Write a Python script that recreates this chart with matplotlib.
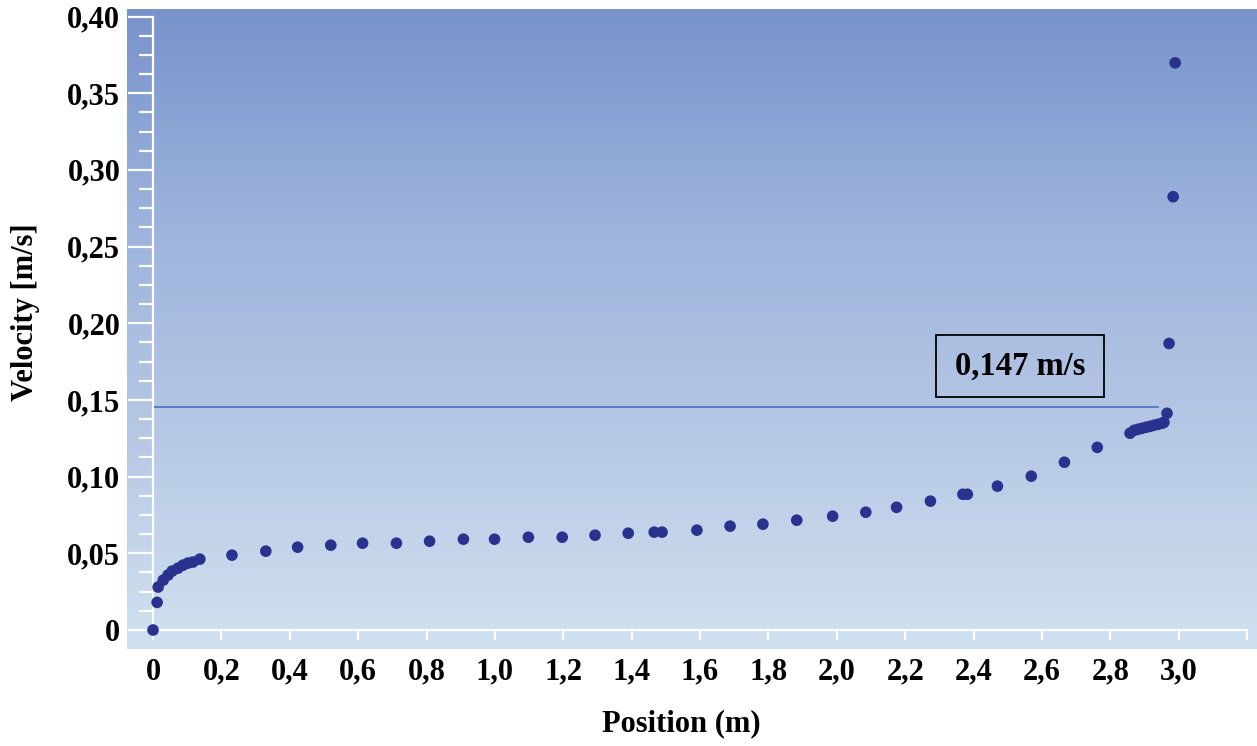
import numpy as np
import matplotlib
matplotlib.use("Agg")
import matplotlib.pyplot as plt
from matplotlib.colors import LinearSegmentedColormap
from matplotlib.ticker import AutoMinorLocator, FixedLocator
from matplotlib.patches import Rectangle

# ---- data ----
position = [0.0, 0.012, 0.015, 0.03, 0.044, 0.056, 0.073, 0.088, 0.102, 0.117, 0.137,
            0.231, 0.330, 0.423, 0.520, 0.613, 0.712, 0.809, 0.908, 0.999, 1.098,
            1.197, 1.293, 1.390, 1.466, 1.489, 1.591, 1.688, 1.784, 1.883, 1.988,
            2.085, 2.175, 2.274, 2.369, 2.382, 2.470, 2.569, 2.666, 2.762,
            2.858, 2.870, 2.882, 2.893, 2.905, 2.917, 2.928, 2.940, 2.952, 2.957,
            2.966, 2.972, 2.984, 2.990]
velocity = [0.0, 0.018, 0.0280, 0.0325, 0.0358, 0.0384, 0.0403, 0.0423, 0.0436, 0.0443, 0.0462,
            0.0488, 0.0514, 0.0540, 0.0553, 0.0566, 0.0566, 0.0579, 0.0592, 0.0592, 0.0605,
            0.0605, 0.0618, 0.0631, 0.0638, 0.0638, 0.0651, 0.0677, 0.0690, 0.0716, 0.0742,
            0.0768, 0.0800, 0.0840, 0.0885, 0.0885, 0.0938, 0.1003, 0.1094, 0.1191,
            0.1283, 0.1302, 0.1309, 0.1315, 0.1322, 0.1328, 0.1335, 0.1341, 0.1348, 0.1354,
            0.1413, 0.1868, 0.2825, 0.3698]
ref_velocity = 0.1455
ref_label = "0,147 m/s"
x_ticks = [0, 0.2, 0.4, 0.6, 0.8, 1.0, 1.2, 1.4, 1.6, 1.8, 2.0, 2.2, 2.4, 2.6, 2.8, 3.0, 3.2]
x_tick_labels = ["0", "0,2", "0,4", "0,6", "0,8", "1,0", "1,2", "1,4", "1,6", "1,8",
                 "2,0", "2,2", "2,4", "2,6", "2,8", "3,0", ""]
y_ticks = [0, 0.05, 0.10, 0.15, 0.20, 0.25, 0.30, 0.35, 0.40]
y_tick_labels = ["0", "0,05", "0,10", "0,15", "0,20", "0,25", "0,30", "0,35", "0,40"]

W, H = 1257, 746
plt.rcParams['font.family'] = ['Liberation Serif', 'DejaVu Serif']
plt.rcParams['font.weight'] = 'bold'

fig = plt.figure(figsize=(W / 100, H / 100), dpi=100)

# gradient backdrop panel
bg = fig.add_axes([127 / W, 1 - 649 / H, (W - 127) / W, (649 - 9) / H])
cmap = LinearSegmentedColormap.from_list(
    "bg", ["#d0e1f0", "#b7c8e5", "#9cb3dc", "#7893cb"])
grad = np.linspace(0, 1, 256).reshape(-1, 1)
bg.imshow(grad, aspect='auto', cmap=cmap, origin='lower', extent=[0, 1, 0, 1])
bg.axis('off')

# main axes
y_top_px = 16.5
ax = fig.add_axes([153 / W, 1 - 630 / H, (1247 - 153) / W, (630 - y_top_px) / H])
ax.patch.set_alpha(0)
ax.set_xlim(0, 3.2)
ax.set_ylim(0, 0.40)

for s in ['top', 'right']:
    ax.spines[s].set_visible(False)
for s in ['left', 'bottom']:
    ax.spines[s].set_color('white')
    ax.spines[s].set_linewidth(1.6)

ax.xaxis.set_major_locator(FixedLocator(x_ticks))
ax.set_xticklabels(x_tick_labels)
ax.yaxis.set_major_locator(FixedLocator(y_ticks))
ax.set_yticklabels(y_tick_labels)
ax.yaxis.set_minor_locator(AutoMinorLocator(4))

ax.tick_params(axis='y', which='major', direction='out', length=18, width=1.6,
               color='white', pad=5.5, labelsize=22, labelcolor='black')
ax.tick_params(axis='y', which='minor', direction='out', length=10, width=1.6,
               color='white')
ax.tick_params(axis='x', which='major', direction='out', length=7, width=1.6,
               color='white', pad=13, labelsize=22, labelcolor='black')
for lab in ax.get_xticklabels() + ax.get_yticklabels():
    lab.set_fontweight('bold')

# reference line
ax.plot([0, 2.94], [ref_velocity, ref_velocity], color='#4a78c0', lw=1.3, zorder=2)

# data points
ax.scatter(position, velocity, s=70, color='#2a3290', edgecolors='none',
           zorder=3, clip_on=False)

# annotation box
fig.patches.append(Rectangle((936 / W, 1 - 397 / H), (1104 - 936) / W, (397 - 335) / H,
                             transform=fig.transFigure, facecolor='none',
                             edgecolor='black', lw=1.3, zorder=4))
fig.text(1020 / W, 1 - 366 / H, ref_label, fontsize=23.5, fontweight='bold',
         ha='center', va='center')

# axis labels
fig.text(26 / W, 1 - 312 / H, "Velocity [m/s]", rotation=90, ha='center', va='center',
         fontsize=22, fontweight='bold')
fig.text(681 / W, 1 - 724 / H, "Position (m)", ha='center', va='center',
         fontsize=22, fontweight='bold')

fig.savefig("out.png", dpi=100)
